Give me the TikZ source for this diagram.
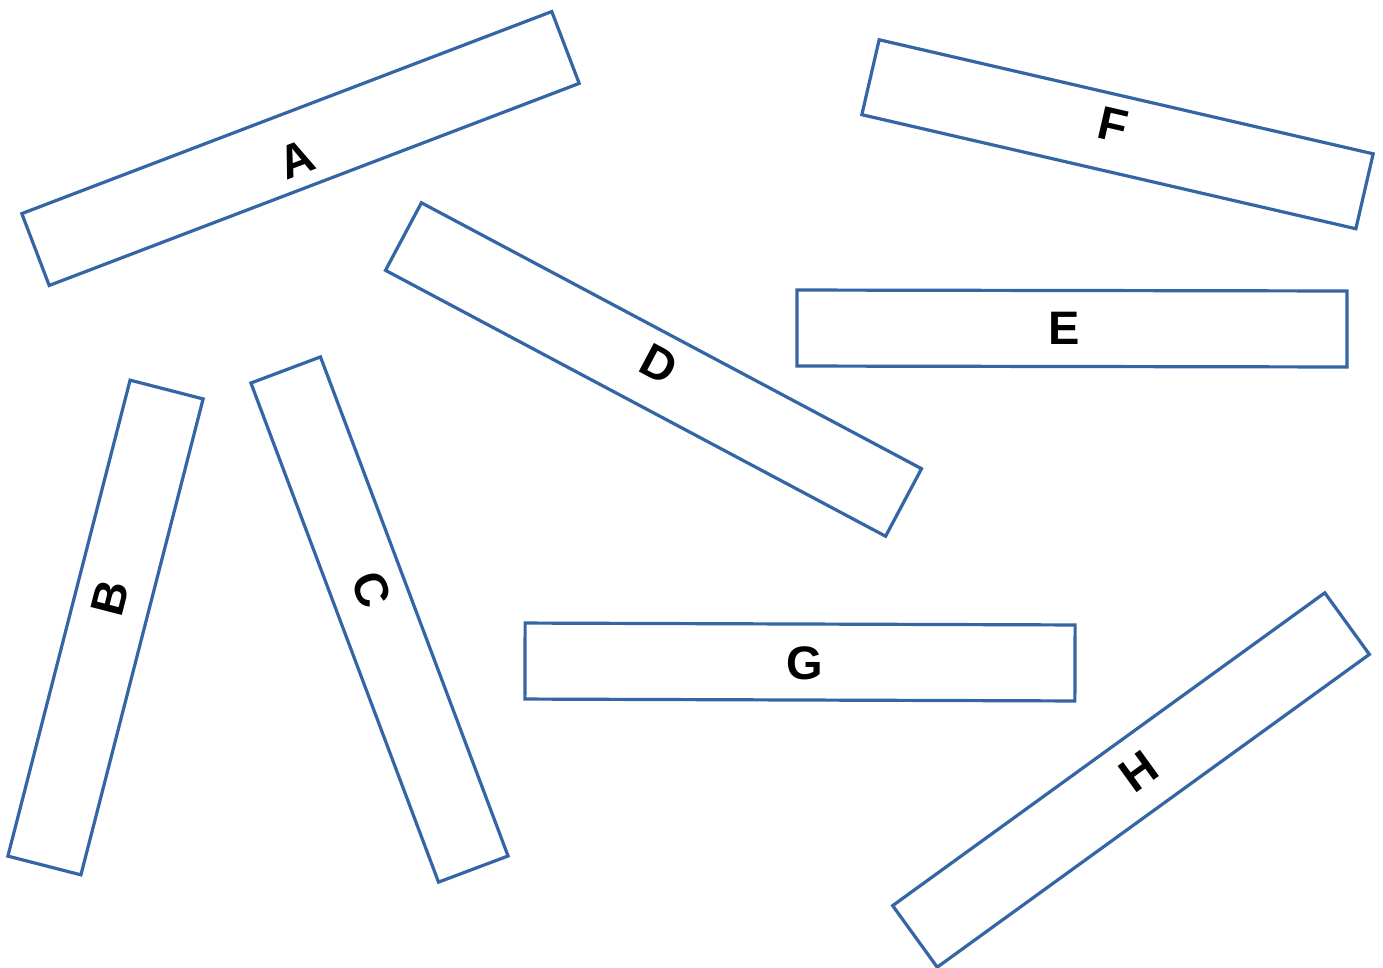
\documentclass[tikz,border=0pt]{standalone}
\usepackage{fontspec}
\setmainfont{Liberation Sans}
\definecolor{boxblue}{HTML}{3465A4}
\tikzset{
  bar/.style={draw=boxblue, line width=3.2pt, rectangle, inner sep=0pt, fill=white},
  letter/.style={inner sep=0pt, font=\bfseries\fontsize{47}{47}\selectfont, text=black}
}
\begin{document}
\begin{tikzpicture}[x=1pt,y=-1pt]
\useasboundingbox (0,0) rectangle (1383,967);
% boxes
\node[bar, minimum width=567.2pt, minimum height=76.9pt, rotate=20.87] (boxA) at (300.5,148.5) {};
\node[bar, minimum width=491.4pt, minimum height=75.4pt, rotate=75.6] (boxB) at (105.5,627.5) {};
\node[bar, minimum width=533.2pt, minimum height=74.3pt, rotate=-69.4] (boxC) at (379.5,619.5) {};
\node[bar, minimum width=566.4pt, minimum height=76.5pt, rotate=-28.0] (boxD) at (653.5,369.5) {};
\node[bar, minimum width=550pt, minimum height=76pt, rotate=-0.1] (boxE) at (1072,328.5) {};
\node[bar, minimum width=507pt, minimum height=76.9pt, rotate=-13.0] (boxF) at (1117.5,134.25) {};
\node[bar, minimum width=550pt, minimum height=76pt, rotate=-0.2] (boxG) at (800,662) {};
\node[bar, minimum width=533.5pt, minimum height=76pt, rotate=35.9] (boxH) at (1131,780) {};
% letters
\node[letter, rotate=20.87] (labA) at (296.5,159.5) {A};
\node[letter, rotate=75.6] (labB) at (110.5,598.5) {B};
\node[letter, rotate=-69.4] (labC) at (371.5,589.5) {C};
\node[letter, rotate=-28.0] (labD) at (659,364) {D};
\node[letter] (labE) at (1064.5,328) {E};
\node[letter, rotate=-13.0] (labF) at (1113.5,124.5) {F};
\node[letter] (labG) at (805,663.5) {G};
\node[letter, rotate=35.9] (labH) at (1139,771) {H};
\end{tikzpicture}
\end{document}
